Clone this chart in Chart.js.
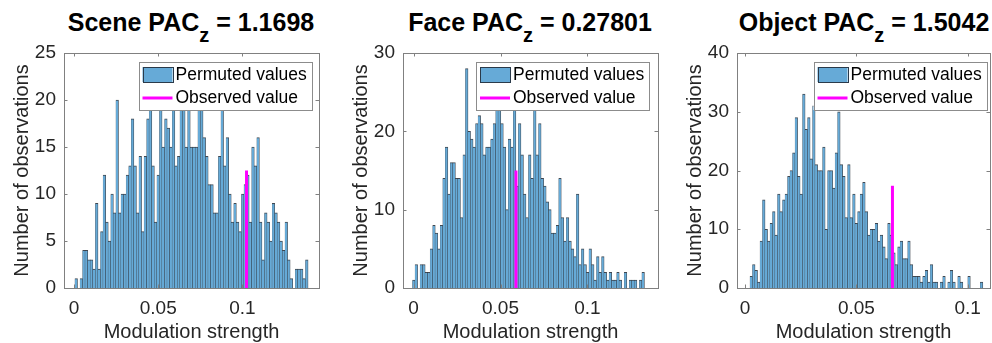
<!DOCTYPE html>
<html>
<head>
<meta charset="utf-8">
<script src="https://cdn.jsdelivr.net/npm/chart.js@4"></script>
<style>
  body { margin: 0; background: #fff; width: 992px; height: 343px; position: relative; overflow: hidden;
         font-family: "Liberation Sans", Arial, Helvetica, sans-serif; }
  canvas { position: absolute; top: 0; }
  .title { position: absolute; top: 8px; font-weight: bold; font-size: 25px; line-height: 28px; color: #000;
           white-space: nowrap; transform: translateX(-50%); }
  .title span { font-size: 20px; position: relative; top: 11px; }
</style>
</head>
<body>
<div class="title" style="left:191px">Scene PAC<span>z</span> = 1.1698</div>
<div class="title" style="left:530px">Face PAC<span>z</span> = 0.27801</div>
<div class="title" style="left:864px">Object PAC<span>z</span> = 1.5042</div>
<canvas id="scene" width="325" height="343" style="left:0px"></canvas>
<canvas id="face" width="325" height="343" style="left:339px"></canvas>
<canvas id="object" width="319" height="343" style="left:673px"></canvas>
<script>
// histogram counts
const sceneCounts = [1,0,1,4,4,3,3,2,9,2, 6,12,7,5,10,8,20,8,10,10, 12,13,18,13,8,14,6,14,18,20,
  13,7,12,22,15,18,17,15,21,13, 14,20,22,15,21,15,15,15,21,20, 16,14,11,11,8,8,14,20,13,16,
  10,7,9,7,6,10,11,12,7,15, 13,16,7,3,8,7,5,9,8,7, 5,4,7,3,1,0,2,2,2,1, 3];
const faceCounts = [1,3,0,3,3,2,2,5,8,7, 5,8,14,18,12,16,16,14,14,9, 17,28,20,19,18,21,22,21,17,18,
  18,19,21,24,23,21,18,10,19,18, 24,13,21,17,12,9,17,14,24,17, 21,14,13,11,10,7,7,8,14,9,
  6,9,6,5,4,12,3,5,3,2, 5,3,1,4,2,4,2,1,2,1, 1,2,1,0,2,0,1,1,1,0, 1,2];
const objectCounts = [2,4,3,1,8,15,10,8,11,13, 9,16,13,15,16,19,20,23,29,19, 16,33,27,29,22,31,21,20,20,24,
  10,20,20,17,23,30,21,19,12,21, 12,16,11,13,16,18,13,9,10,10, 11,8,9,7,5,11,9,6,4,7,
  8,5,5,8,4,2,2,2,1,2, 3,1,4,1,1,0,1,2,0,1, 3,1,0,2,1,0,0,2,0,0, 0,0,1];

// histogram bin edges: first edge and bin width per panel
const binStarts = [0.0006, -0.0006, 0.00225];
const binWidths = [0.00152, 0.00145, 0.001124];

// observed value (x) and height of the magenta marker
const observedX = [0.1024, 0.0589, 0.0662];
const observedY = [12.5, 15, 17.4];

const seriesNames = ['Permuted values', 'Observed value'];
const xTickValues = [0, 0.05, 0.1];
const xTickLabels = ['0', '0.05', '0.1'];
const yTickValues = [[0, 5, 10, 15, 20, 25], [0, 10, 20, 30], [0, 10, 20, 30, 40]];
const xRanges = [[-0.0059, 0.1454], [-0.0061, 0.1406], [-0.0036, 0.110]];

const FONT = '"Liberation Sans", Arial, Helvetica, sans-serif';
const INK = '#262626';
const BAR_FILL = '#66aad7';
const BAR_EDGE = 'rgba(30,40,50,0.85)';
Chart.defaults.font.family = FONT;
Chart.defaults.color = INK;

// MATLAB-like box with inward ticks
const axesBox = {
  id: 'axesBox',
  afterDatasetsDraw(chart) {
    const { ctx, chartArea: a, scales } = chart;
    ctx.save();
    ctx.strokeStyle = '#808080';
    ctx.lineWidth = 1;
    ctx.strokeRect(Math.round(a.left) + 0.5, Math.round(a.top) + 0.5,
                   Math.round(a.right - a.left), Math.round(a.bottom - a.top));
    const len = 3.5;
    ctx.beginPath();
    scales.x.ticks.forEach(t => {
      const px = Math.round(scales.x.getPixelForValue(t.value)) + 0.5;
      ctx.moveTo(px, a.bottom); ctx.lineTo(px, a.bottom - len);
      ctx.moveTo(px, a.top); ctx.lineTo(px, a.top + len);
    });
    scales.y.ticks.forEach(t => {
      const py = Math.round(scales.y.getPixelForValue(t.value)) + 0.5;
      ctx.moveTo(a.left, py); ctx.lineTo(a.left + len, py);
      ctx.moveTo(a.right, py); ctx.lineTo(a.right - len, py);
    });
    ctx.stroke();
    ctx.restore();
  }
};

// legend box in the upper right corner of the axes
const boxLegend = {
  id: 'boxLegend',
  afterDraw(chart, args, opts) {
    const { ctx, chartArea: a } = chart;
    const w = 173, h = 48;
    const x = a.right - opts.gap - w, y = a.top + 9;
    const sets = chart.data.datasets;
    ctx.save();
    ctx.fillStyle = '#fff';
    ctx.fillRect(x, y, w, h);
    ctx.strokeStyle = '#8c8c8c';
    ctx.lineWidth = 1;
    ctx.strokeRect(Math.round(x) + 0.5, Math.round(y) + 0.5, w, h);
    ctx.fillStyle = BAR_FILL;
    ctx.fillRect(x + 4, y + 5, 30, 15);
    ctx.strokeStyle = '#2a3a4a';
    ctx.strokeRect(Math.round(x + 4) + 0.5, Math.round(y + 5) + 0.5, 30, 15);
    ctx.strokeStyle = '#ff00ff';
    ctx.lineWidth = 3;
    ctx.beginPath();
    ctx.moveTo(x + 4, y + 36); ctx.lineTo(x + 34, y + 36);
    ctx.stroke();
    ctx.fillStyle = '#000';
    ctx.font = '17.5px ' + FONT;
    ctx.textBaseline = 'middle';
    ctx.fillText(sets.find(d => d.type === 'bar').label, x + 37, y + 13);
    ctx.fillText(sets.find(d => d.type === 'line').label, x + 37, y + 36);
    ctx.restore();
  }
};

function buildPanel(id, counts, k, legendGap) {
  const bars = counts.map((c, i) => ({ x: binStarts[k] + (i + 0.5) * binWidths[k], y: c }));
  const yTicks = yTickValues[k];
  return new Chart(document.getElementById(id), {
    data: {
      datasets: [
        {
          type: 'bar', label: seriesNames[0], data: bars,
          backgroundColor: BAR_FILL, borderColor: BAR_EDGE,
          borderWidth: { top: 1, right: 0.7, left: 0.3, bottom: 0 }, borderSkipped: false,
          barPercentage: 1, categoryPercentage: 1, order: 1
        },
        {
          type: 'line', label: seriesNames[1],
          data: [{ x: observedX[k], y: 0 }, { x: observedX[k], y: observedY[k] }],
          borderColor: '#ff00ff', borderWidth: 3, pointRadius: 0, order: 0
        }
      ]
    },
    options: {
      responsive: false,
      animation: false,
      layout: { padding: { top: 53, right: k === 2 ? 2 : 6, left: 0, bottom: 0 } },
      plugins: { legend: { display: false }, tooltip: { enabled: false }, boxLegend: { gap: legendGap } },
      scales: {
        x: {
          type: 'linear', min: xRanges[k][0], max: xRanges[k][1], offset: false,
          grid: { display: false, drawTicks: false }, border: { display: false },
          afterBuildTicks: s => { s.ticks = xTickValues.map(v => ({ value: v })); },
          afterFit: s => { s.height = 55; },
          ticks: { font: { size: 19 }, padding: 9, maxRotation: 0, autoSkip: false,
                   callback: (v, i) => xTickLabels[i] },
          title: { display: true, text: 'Modulation strength', font: { size: 20 }, padding: { top: 0, bottom: -1 } }
        },
        y: {
          min: 0, max: yTicks[yTicks.length - 1],
          grid: { display: false, drawTicks: false }, border: { display: false },
          afterBuildTicks: s => { s.ticks = yTicks.map(v => ({ value: v })); },
          afterFit: s => { s.width = 64; },
          ticks: { font: { size: 19 }, padding: 8, autoSkip: false },
          title: { display: true, text: 'Number of observations', font: { size: 20 }, padding: { top: 10, bottom: 0 } }
        }
      }
    },
    plugins: [axesBox, boxLegend]
  });
}

buildPanel('scene', sceneCounts, 0, 7.5);
buildPanel('face', faceCounts, 1, 9);
buildPanel('object', objectCounts, 2, 3.5);
</script>
</body>
</html>
